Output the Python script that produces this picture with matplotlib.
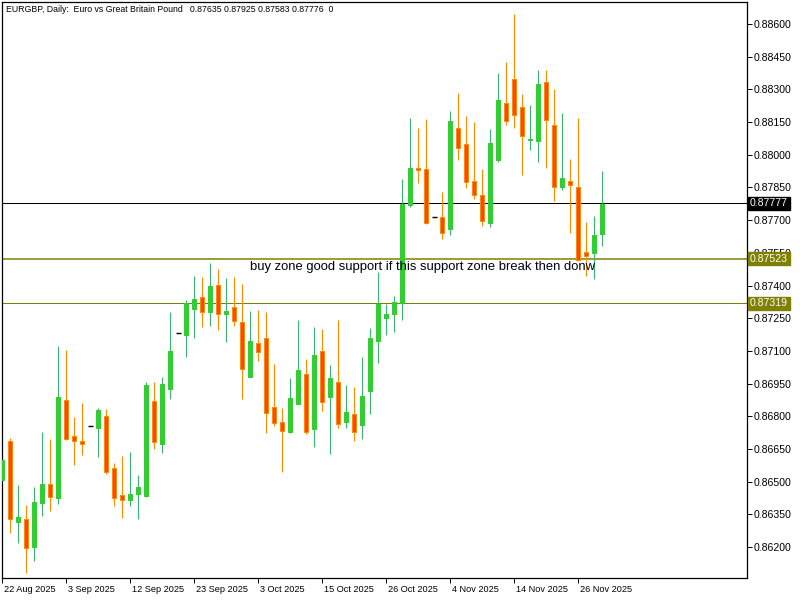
import matplotlib.pyplot as plt
import matplotlib.transforms as mtransforms
import numpy as np

plt.rcParams["font.family"] = ["Liberation Sans", "DejaVu Sans"]

# daily EURGBP candles (bar 0 = 22 Aug 2025)
opens = [0.86507, 0.86686, 0.86316, 0.86327, 0.86201, 0.86401, 0.86489, 0.86424, 0.86875, 0.86708,
         0.86686, 0.86754, 0.86747, 0.86801, 0.86563, 0.86437, 0.86414, 0.86442, 0.86435, 0.86870,
         0.86674, 0.86926, 0.87181, 0.87174, 0.87294, 0.87347, 0.87280, 0.87402, 0.87271, 0.87300,
         0.87232, 0.86982, 0.87135, 0.87158, 0.86842, 0.86772, 0.86728, 0.86858, 0.86994, 0.86743,
         0.87100, 0.86890, 0.86957, 0.86775, 0.86810, 0.86761, 0.86917, 0.87147, 0.87252, 0.87268,
         0.87318, 0.87771, 0.87938, 0.87933, 0.87714, 0.87713, 0.87661, 0.88123, 0.88049, 0.87880,
         0.87815, 0.87688, 0.87977, 0.88236, 0.88346, 0.88218, 0.88066, 0.88062, 0.88334, 0.88137,
         0.87851, 0.87878, 0.87851, 0.87552, 0.87550, 0.87635]
highs = [0.86604, 0.86700, 0.86485, 0.86393, 0.86475, 0.86728, 0.86696, 0.87122, 0.87104, 0.86797,
         0.86861, 0.86754, 0.86838, 0.86833, 0.86585, 0.86618, 0.86636, 0.86530, 0.86957, 0.86957,
         0.86980, 0.87278, 0.87181, 0.87334, 0.87444, 0.87439, 0.87502, 0.87476, 0.87434, 0.87439,
         0.87407, 0.87283, 0.87288, 0.87278, 0.87040, 0.86838, 0.86976, 0.87242, 0.87063, 0.87210,
         0.87200, 0.87035, 0.87242, 0.86943, 0.86936, 0.87073, 0.87205, 0.87462, 0.87317, 0.87352,
         0.87889, 0.88169, 0.88123, 0.88164, 0.87714, 0.87829, 0.88201, 0.88285, 0.88178, 0.88150,
         0.87935, 0.88118, 0.88375, 0.88426, 0.88646, 0.88279, 0.88228, 0.88389, 0.88389, 0.88302,
         0.88192, 0.87980, 0.88169, 0.87691, 0.87719, 0.87925]
lows = [0.86503, 0.86266, 0.86220, 0.86082, 0.86137, 0.86344, 0.86365, 0.86399, 0.86691, 0.86576,
        0.86624, 0.86754, 0.86614, 0.86536, 0.86390, 0.86335, 0.86390, 0.86327, 0.86431, 0.86651,
        0.86633, 0.86881, 0.87181, 0.87073, 0.87160, 0.87211, 0.87216, 0.87197, 0.87142, 0.87216,
        0.86881, 0.86982, 0.87055, 0.86725, 0.86757, 0.86546, 0.86725, 0.86858, 0.86720, 0.86658,
        0.86825, 0.86628, 0.86747, 0.86747, 0.86688, 0.86697, 0.86809, 0.87046, 0.87174, 0.87188,
        0.87242, 0.87762, 0.87872, 0.87684, 0.87714, 0.87615, 0.87633, 0.87977, 0.87849, 0.87798,
        0.87674, 0.87670, 0.87968, 0.88138, 0.88121, 0.87908, 0.88023, 0.87968, 0.87941, 0.87789,
        0.87840, 0.87642, 0.87514, 0.87445, 0.87431, 0.87583]
closes = [0.86599, 0.86327, 0.86338, 0.86194, 0.86407, 0.86489, 0.86428, 0.86888, 0.86697, 0.86685,
          0.86671, 0.86754, 0.86829, 0.86546, 0.86424, 0.86414, 0.86442, 0.86474, 0.86943, 0.86681,
          0.86948, 0.87100, 0.87181, 0.87318, 0.87338, 0.87277, 0.87398, 0.87268, 0.87283, 0.87236,
          0.87015, 0.87145, 0.87094, 0.86814, 0.86768, 0.86731, 0.86884, 0.87012, 0.86729, 0.87081,
          0.86864, 0.86976, 0.86766, 0.86820, 0.86729, 0.86894, 0.87159, 0.87317, 0.87268, 0.87323,
          0.87774, 0.87938, 0.87932, 0.87688, 0.87714, 0.87641, 0.88155, 0.88030, 0.87876, 0.87814,
          0.87697, 0.88054, 0.88251, 0.88154, 0.88181, 0.88087, 0.88072, 0.88325, 0.88158, 0.87851,
          0.87892, 0.87860, 0.87517, 0.87537, 0.87630, 0.87776]

date_labels = ["22 Aug 2025", "3 Sep 2025", "12 Sep 2025", "23 Sep 2025", "3 Oct 2025",
               "15 Oct 2025", "26 Oct 2025", "4 Nov 2025", "14 Nov 2025", "26 Nov 2025"]
date_label_bars = [0, 8, 16, 24, 32, 40, 48, 56, 64, 72]

price_ticks = [0.86200, 0.86350, 0.86500, 0.86650, 0.86800, 0.86950, 0.87100, 0.87250, 0.87400,
               0.87550, 0.87700, 0.87850, 0.88000, 0.88150, 0.88300, 0.88450, 0.88600]

levels = [0.87777, 0.87523, 0.87319]
level_colors = ["black", "#808000", "#808000"]
level_widths = [0.75, 1.1, 0.75]

title = "EURGBP, Daily:  Euro vs Great Britain Pound   0.87635 0.87925 0.87583 0.87776  0"
note = "buy zone good support if this support zone break then donw"

UP_BODY, UP_WICK = "#32CD32", "#3CB371"
DN_BODY, DN_EDGE = "#FF4500", "#FF8C00"

o, h, l, c = (np.array(v) for v in (opens, highs, lows, closes))
x = np.arange(len(o))
up, dn, flat = c > o, c < o, c == o

fig = plt.figure(figsize=(8, 6), dpi=100)
ax = fig.add_axes([2 / 800, 22 / 600, 745 / 800, 576 / 600])

for lv, col, lw in zip(levels, level_colors, level_widths):
    ax.axhline(lv, color=col, lw=lw, zorder=1)

ax.vlines(x[up], l[up], h[up], color=UP_WICK, lw=0.8, zorder=2)
ax.vlines(x[dn], l[dn], h[dn], color=DN_EDGE, lw=0.8, zorder=2)
ax.bar(x[up], c[up] - o[up], bottom=o[up], width=0.5, color=UP_BODY,
       edgecolor=UP_BODY, lw=0.72, zorder=3)
ax.bar(x[dn], o[dn] - c[dn], bottom=c[dn], width=0.5, color=DN_BODY,
       edgecolor=DN_EDGE, lw=0.72, zorder=3)
ax.hlines(c[flat], x[flat] - 0.3, x[flat] + 0.3, color="black", lw=1.0, zorder=3)

ax.set_xlim(-0.04, 93.09)
ax.set_ylim(0.86058, 0.88701)

ax.yaxis.tick_right()
ax.set_yticks(price_ticks)
ax.set_yticklabels([f"{v:.5f}" for v in price_ticks])
ax.tick_params(axis="y", direction="out", length=3.5, width=0.7, pad=1, labelsize=7.6)

ax.set_xticks(date_label_bars)
ax.set_xticklabels(date_labels, ha="left")
ax.tick_params(axis="x", direction="out", length=3.5, width=0.7, pad=1.5, labelsize=6.6)
shift = mtransforms.ScaledTranslation(1.5 / 100, 0, fig.dpi_scale_trans)
for lbl in ax.get_xticklabels():
    lbl.set_transform(lbl.get_transform() + shift)

for sp in ax.spines.values():
    sp.set_linewidth(0.9)

ax.text(4 / 745, 1 - 3 / 576, title, transform=ax.transAxes, ha="left", va="top", fontsize=6.3)
ax.text(30.96, 0.87487, note, ha="left", va="center", fontsize=9.35, color="#000010", zorder=4)

tag_tr = mtransforms.blended_transform_factory(ax.transAxes, ax.transData)
for lv, col in zip(levels, level_colors):
    ax.text(1 + 3 / 745, lv, f"{lv:.5f}", transform=tag_tr, ha="left", va="center",
            fontsize=7.6, color="white", clip_on=False, zorder=5,
            bbox=dict(boxstyle="square,pad=0.15", fc=col, ec=col))

fig.savefig("out.png", dpi=100)
